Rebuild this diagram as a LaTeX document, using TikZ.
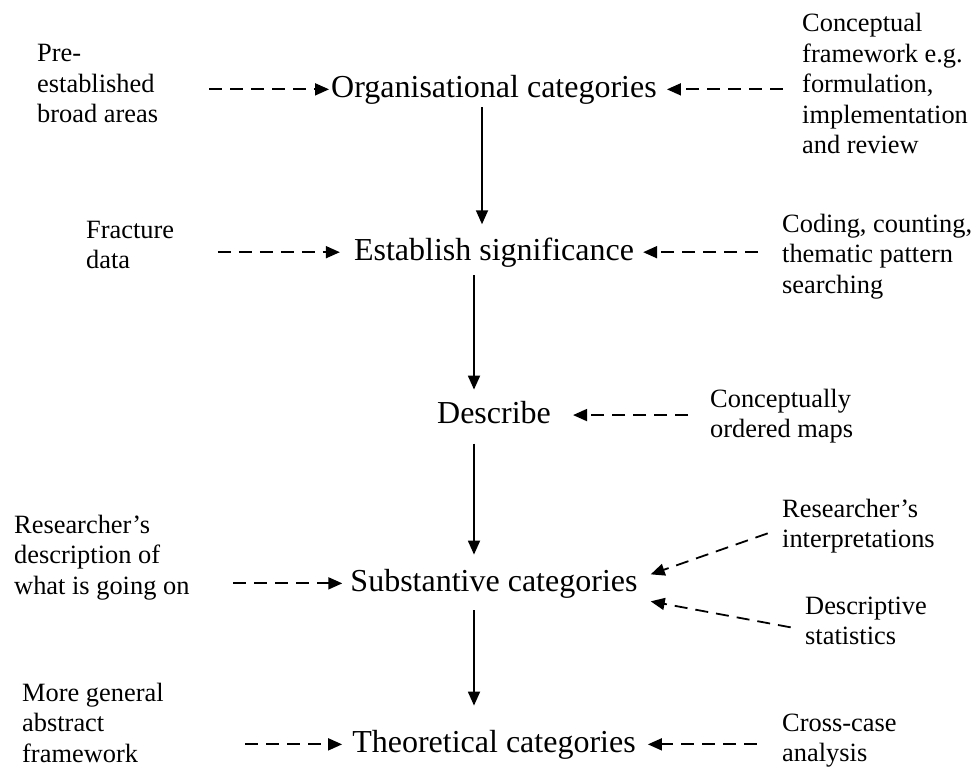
\documentclass[tikz,border=0pt]{standalone}
\usepackage{fontspec}
\setmainfont{Liberation Serif}
\usetikzlibrary{arrows.meta}
\tikzset{
  mainlbl/.style={anchor=base, inner sep=0pt, font=\fontsize{32}{38}\selectfont},
  sidelbl/.style={anchor=base west, inner sep=0pt, font=\fontsize{26.4}{30.5}\selectfont},
  solidarr/.style={line width=1.8pt, -{Triangle[length=14pt,width=12pt]}},
  dasharr/.style={line width=1.8pt, dash pattern=on 13pt off 8pt, -{Triangle[length=14pt,width=12pt]}}
}
\newcommand{\stk}[1]{\vtop{\baselineskip=30.5pt\lineskiplimit=0pt\halign{##\hfil\cr#1\crcr}}}
\begin{document}
\begin{tikzpicture}[x=1pt,y=-1pt]
\useasboundingbox (0,0) rectangle (977,768);
% main nodes
\node[mainlbl] (org) at (494,97) {Organisational categories};
\node[mainlbl] (est) at (494,260) {Establish significance};
\node[mainlbl] (desc) at (494,423) {Describe};
\node[mainlbl] (sub) at (494,591) {Substantive categories};
\node[mainlbl] (theo) at (494,752) {Theoretical categories};
% side nodes
\node[sidelbl] (pre) at (37,62) {\stk{Pre-\cr established\cr broad areas}};
\node[sidelbl] (cf) at (802,32) {\stk{Conceptual\cr framework e.g.\cr formulation,\cr implementation\cr and review}};
\node[sidelbl] (fd) at (86,238) {\stk{Fracture\cr data}};
\node[sidelbl] (cod) at (782,232) {\stk{Coding, counting,\cr thematic pattern\cr searching}};
\node[sidelbl] (com) at (710,407) {\stk{Conceptually\cr ordered maps}};
\node[sidelbl] (rd) at (14,533) {\stk{Researcher’s\cr description of\cr what is going on}};
\node[sidelbl] (ri) at (782,517) {\stk{Researcher’s\cr interpretations}};
\node[sidelbl] (ds) at (805,614) {\stk{Descriptive\cr statistics}};
\node[sidelbl] (mg) at (22,701) {\stk{More general\cr abstract\cr framework}};
\node[sidelbl] (cc) at (782,731) {\stk{Cross-case\cr analysis}};
% vertical arrows
\draw[solidarr] ([xshift=-12pt,yshift=-3pt]org.south) -- ([xshift=-12pt,yshift=13pt]est.north);
\draw[solidarr] ([xshift=-20pt,yshift=-8pt]est.south) -- ([xshift=-20pt,yshift=11pt]desc.north);
\draw[solidarr] ([xshift=-20pt,yshift=-20pt]desc.south) -- ([xshift=-20pt,yshift=14pt]sub.north);
\draw[solidarr] ([xshift=-20pt,yshift=-12pt]sub.south) -- ([xshift=-20pt,yshift=24pt]theo.north);
% left dashed arrows
\draw[dasharr] ([xshift=-122pt]org.west) -- ([xshift=-2pt]org.west);
\draw[dasharr] ([xshift=-136pt]est.west) -- ([xshift=-14pt]est.west);
\draw[dasharr] ([xshift=-117pt]sub.west) -- ([xshift=-8pt]sub.west);
\draw[dasharr] ([xshift=-107pt]theo.west) -- ([xshift=-10pt]theo.west);
% right dashed arrows
\draw[dasharr] ([xshift=126pt]org.east) -- ([xshift=10pt]org.east);
\draw[dasharr] ([xshift=124pt]est.east) -- ([xshift=9pt]est.east);
\draw[dasharr] ([xshift=137pt,yshift=-3pt]desc.east) -- ([xshift=22pt,yshift=-3pt]desc.east);
\draw[dasharr] ([xshift=121pt]theo.east) -- ([xshift=12pt]theo.east);
% diagonal dashed arrows
\draw[dasharr] ([xshift=130pt,yshift=50pt]sub.east) -- ([xshift=13pt,yshift=9pt]sub.east);
\draw[dasharr] ([xshift=153pt,yshift=-44pt]sub.east) -- ([xshift=13pt,yshift=-18pt]sub.east);
\end{tikzpicture}
\end{document}
